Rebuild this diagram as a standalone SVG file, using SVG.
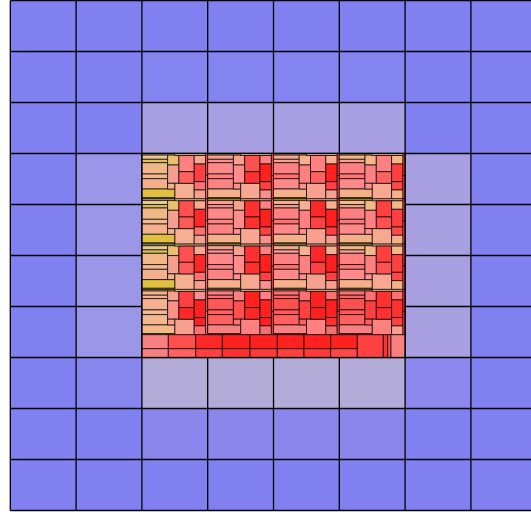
<svg xmlns="http://www.w3.org/2000/svg" xmlns:xlink="http://www.w3.org/1999/xlink" width="531" height="512" viewBox="0 0 531 512">
<style>
.k0{--t:#e0c8a0;--a1:#e8c890;--a2:#e0c050;--a3:#f0b888;--a4:#f4b890;--a5:#f4b08c;--y:#e0c040;--b1:#e8c070;--b2:#f4a090;--b3:#f4b090;--s:#f4b090;--t2:#e8c080;--c1:#ff5050;--c2:#ff5a5a;--d1:#f8a890;--d2:#ff2828;--d3:#ff7070;--d4:#f8a090;--e:#ff5050;--e2:#ff7070}
.k0.r0{--c1:#ff8080;--c2:#ff6060;--d2:#ff4040}
.k0.r3{--t:#e0c040;--a1:#f4b090;--a2:#f4b090;--a3:#f4b090;--a4:#f4b890;--a5:#f4b890;--y:#f4b888;--b1:#f8a090;--b2:#f89088;--b3:#f8a090;--s:#f8a090;--c1:#ff4040;--c2:#ff2828;--d1:#f89090;--d2:#ff2020;--d3:#ff2020;--d4:#ff7070}
.k1{--t:#e0c040;--a1:#f8a090;--a2:#ff9090;--a3:#ff8888;--a4:#ff8080;--a5:#ff8282;--y:#f4b088;--b1:#f8a090;--b2:#ff8c8c;--b3:#ff9090;--s:#f8a890;--t2:#f0b080;--c1:#ff3030;--c2:#ff3030;--d1:#ff8080;--d2:#ff2020;--d3:#ff4040;--d4:#f89090;--e:#ff4040;--e2:#ff3030}
.k1.r0{--c1:#ff5050}
.k1.r3{--t:#f8a090;--a1:#ff8080;--a2:#ff7070;--a3:#ff5858;--a4:#ff6060;--a5:#ff6060;--y:#f88080;--b1:#ff8080;--b2:#ff5050;--b3:#ff7070;--s:#ff8080;--c1:#ff2020;--c2:#ff2828;--d1:#ff8080;--d2:#ff2020;--d3:#ff2020;--d4:#f07070}
.k2{--t:#e0c040;--a1:#f8a890;--a2:#f8a090;--a3:#ff8080;--a4:#ff7070;--a5:#ff8888;--y:#f4b088;--b1:#f4b090;--b2:#ff8080;--b3:#ff9090;--s:#f8a090;--t2:#f0b080;--c1:#ff2828;--c2:#ff4040;--d1:#f4b090;--d2:#ff2020;--d3:#ff4040;--d4:#f8a090;--e:#ff4040;--e2:#ff5050}
.k2.r0{--c1:#ff8080;--c2:#ff6060}
.k2.r3{--t:#f8a090;--a1:#ff7070;--a2:#ff6060;--a3:#ff5050;--a4:#ff5858;--a5:#ff6060;--y:#f88080;--b1:#ff7070;--b2:#ff4040;--b3:#ff6060;--s:#ff8080;--c1:#ff2020;--c2:#ff2020;--d1:#ff7070;--d2:#ff2020;--d3:#ff3030;--d4:#f07070}
.k3{--t:#e0c040;--a1:#f4b888;--a2:#f8a090;--a3:#ff8080;--a4:#ff7878;--a5:#ff8888;--y:#f4b088;--b1:#f4b888;--b2:#ff8080;--b3:#ff9090;--s:#f8a890;--t2:#f0b080;--c1:#ff4040;--c2:#ff5050;--d1:#f4b888;--d2:#ff4040;--d3:#ff4848;--d4:#f4b088;--e:#ff4040;--e2:#ff5050}
.k3.r0{--c1:#ff8080;--c2:#ff6060}
.k3.r3{--t:#f8a090;--a1:#ff7070;--a2:#ff6060;--a3:#ff5050;--a4:#ff5858;--a5:#ff6060;--y:#f88080;--b1:#ff7070;--b2:#ff4040;--b3:#ff6060;--s:#ff8080;--c1:#ff3030;--c2:#ff3030;--d1:#ff7070;--d2:#ff3030;--d3:#ff4040;--d4:#f8a090}
.grid{fill:none;stroke:#000;stroke-width:1.3}
.br{stroke:#000;stroke-opacity:0.7;stroke-width:1}
</style>
<defs>
<g id="tile" stroke="#000" stroke-opacity="0.7" stroke-width="1">
<rect x="0" y="0" width="33" height="1.6" style="fill:var(--t)"/>
<rect x="0" y="1.6" width="25.7" height="4.2" style="fill:var(--a1)"/>
<rect x="0" y="5.8" width="25.7" height="3.4" style="fill:var(--a2)"/>
<rect x="0" y="9.2" width="25.7" height="11.3" style="fill:var(--a3)"/>
<rect x="0" y="20.5" width="25.7" height="4.7" style="fill:var(--a4)"/>
<rect x="0" y="25.2" width="25.7" height="10.3" style="fill:var(--a5)"/>
<rect x="0" y="35.5" width="33" height="8.7" style="fill:var(--y)"/>
<rect x="0" y="44.2" width="33" height="1.1" style="fill:var(--t)"/>
<rect x="25.7" y="1.6" width="11.3" height="9.9" style="fill:var(--b1)"/>
<rect x="25.7" y="11.5" width="11.3" height="18.3" style="fill:var(--b2)"/>
<rect x="25.7" y="29.8" width="7.3" height="5.7" style="fill:var(--b3)"/>
<rect x="33" y="29.8" width="19.3" height="15.5" style="fill:var(--s)"/>
<rect x="33" y="0" width="30.7" height="2" style="fill:var(--t2)"/>
<rect x="37" y="2" width="15.3" height="16.2" style="fill:var(--c1)"/>
<rect x="37" y="18.2" width="15.3" height="11.6" style="fill:var(--c2)"/>
<rect x="52.3" y="2" width="11.4" height="8.5" style="fill:var(--d1)"/>
<rect x="52.3" y="10.5" width="11.4" height="17.7" style="fill:var(--d2)"/>
<rect x="52.3" y="28.2" width="11.4" height="8.3" style="fill:var(--d3)"/>
<rect x="52.3" y="36.5" width="11.4" height="8.8" style="fill:var(--d4)"/>
<rect x="63.7" y="0" width="2.1" height="22" style="fill:var(--e)"/>
<rect x="63.7" y="22" width="2.1" height="23.3" style="fill:var(--e2)"/>
</g>
</defs>
<rect width="531" height="512" fill="#ffffff"/>
<g id="cells">
<rect x="10.3" y="0.5" width="530" height="510" fill="#8080f0"/>
<rect x="141.9" y="51.5" width="263.2" height="51" fill="#8484f0"/>
<rect x="141.9" y="102.5" width="263.2" height="51" fill="#a8a0e2"/>
<rect x="76.1" y="153.5" width="65.8" height="204" fill="#9c96e8"/>
<rect x="405.1" y="153.5" width="65.8" height="204" fill="#a8a0e0"/>
<rect x="141.9" y="357.5" width="263.2" height="51" fill="#b4acd8"/>
<rect x="76.1" y="357.5" width="65.8" height="51" fill="#8686ee"/>
<rect x="405.1" y="357.5" width="65.8" height="51" fill="#8c88ee"/>
<rect x="141.9" y="408.5" width="263.2" height="51" fill="#8a86ec"/>
</g>
<g id="gridlines">
<path class="grid" d="M10.3 0.5V510.5M76.1 0.5V510.5M141.9 0.5V510.5M207.7 0.5V510.5M273.5 0.5V510.5M339.3 0.5V510.5M405.1 0.5V510.5M470.9 0.5V510.5M10.3 0.5H531M10.3 51.5H531M10.3 102.5H531M10.3 153.5H531M10.3 204.5H531M10.3 255.5H531M10.3 306.5H531M10.3 357.5H531M10.3 408.5H531M10.3 459.5H531M10.3 510.5H531"/>
</g>
<g id="treemap">
<use xlink:href="#tile" x="141.9" y="153.5" class="k0 r0"/>
<use xlink:href="#tile" x="207.7" y="153.5" class="k1 r0"/>
<use xlink:href="#tile" x="273.5" y="153.5" class="k2 r0"/>
<use xlink:href="#tile" x="339.3" y="153.5" class="k3 r0"/>
<use xlink:href="#tile" x="141.9" y="198.8" class="k0"/>
<use xlink:href="#tile" x="207.7" y="198.8" class="k1"/>
<use xlink:href="#tile" x="273.5" y="198.8" class="k2"/>
<use xlink:href="#tile" x="339.3" y="198.8" class="k3"/>
<use xlink:href="#tile" x="141.9" y="244.1" class="k0"/>
<use xlink:href="#tile" x="207.7" y="244.1" class="k1"/>
<use xlink:href="#tile" x="273.5" y="244.1" class="k2"/>
<use xlink:href="#tile" x="339.3" y="244.1" class="k3"/>
<use xlink:href="#tile" x="141.9" y="289.4" class="k0 r3"/>
<use xlink:href="#tile" x="207.7" y="289.4" class="k1 r3"/>
<use xlink:href="#tile" x="273.5" y="289.4" class="k2 r3"/>
<use xlink:href="#tile" x="339.3" y="289.4" class="k3 r3"/>
<g id="bottom-strip" class="br">
<rect x="141.9" y="334.7" width="26.4" height="14" fill="#f88080"/>
<rect x="168.3" y="334.7" width="27.4" height="14" fill="#ff5050"/>
<rect x="195.7" y="334.7" width="26.6" height="14" fill="#ff2828"/>
<rect x="222.3" y="334.7" width="27.7" height="14" fill="#ff2020"/>
<rect x="250" y="334.7" width="27.3" height="14" fill="#ff2020"/>
<rect x="277.3" y="334.7" width="26.7" height="14" fill="#ff2020"/>
<rect x="304" y="334.7" width="26.7" height="14" fill="#ff2020"/>
<rect x="330.7" y="334.7" width="26.6" height="14" fill="#ff2020"/>
<rect x="141.9" y="348.7" width="26.4" height="8.8" fill="#f88080"/>
<rect x="168.3" y="348.7" width="27.4" height="8.8" fill="#ff6060"/>
<rect x="195.7" y="348.7" width="26.6" height="8.8" fill="#ff4040"/>
<rect x="222.3" y="348.7" width="27.7" height="8.8" fill="#ff3030"/>
<rect x="250" y="348.7" width="27.3" height="8.8" fill="#ff3838"/>
<rect x="277.3" y="348.7" width="26.7" height="8.8" fill="#ff4040"/>
<rect x="304" y="348.7" width="26.7" height="8.8" fill="#ff3838"/>
<rect x="330.7" y="348.7" width="26.6" height="8.8" fill="#ff4848"/>
<rect x="357.3" y="334.7" width="26" height="22.8" fill="#ff4040"/>
<rect x="383.3" y="334.7" width="4.4" height="22.8" fill="#ff3030"/>
<rect x="387.7" y="334.7" width="3.3" height="22.8" fill="#ff5050"/>
<rect x="391" y="334.7" width="14.1" height="22.8" fill="#f88080"/>
</g>
</g>
<rect x="141.9" y="153.5" width="263.2" height="204" class="grid"/>
</svg>
